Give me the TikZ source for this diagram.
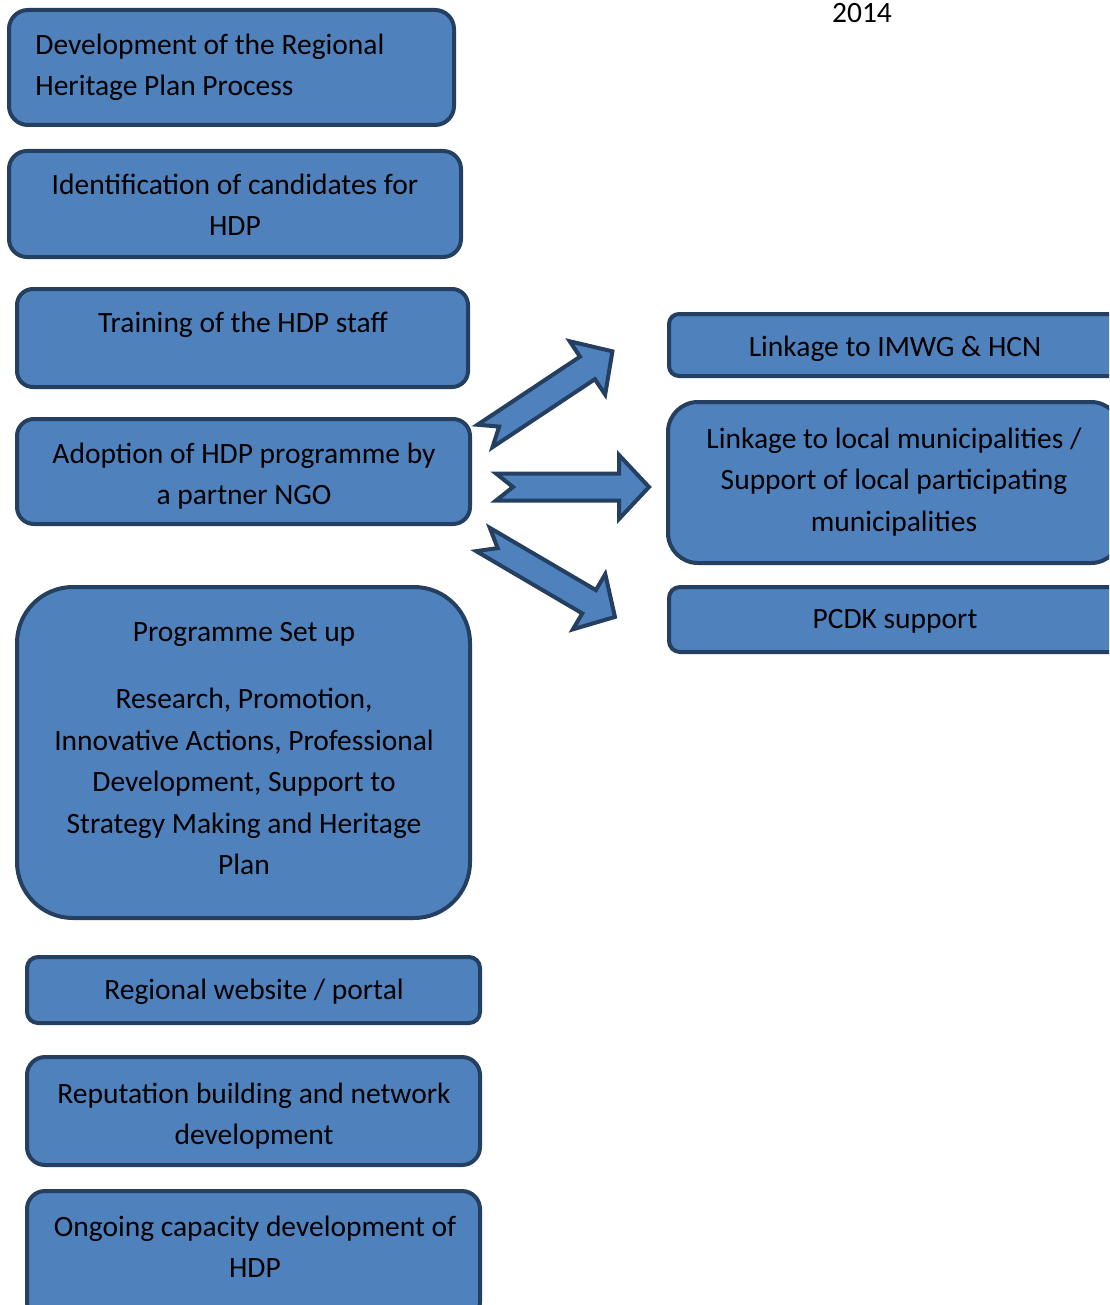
\documentclass[tikz,border=0pt]{standalone}
\usepackage{fontspec}
\setmainfont{Carlito}
\definecolor{boxfill}{HTML}{4F81BD}
\definecolor{boxline}{HTML}{243F60}
\begin{document}
\begin{tikzpicture}[x=0.5pt,y=-0.5pt,
  box/.style={draw=boxline, fill=boxfill, line width=2pt, inner sep=0pt},
  txt/.style={font=\fontsize{14.75}{20.75}\selectfont, inner sep=0pt, anchor=north, align=center, text=black},
  blockarrow/.pic={\draw[draw=boxline, fill=boxfill, line width=2pt, line join=miter]
     (0,-13.5) -- (123,-13.5) -- (123,-32) -- (153,0) -- (123,32) -- (123,13.5) -- (0,13.5) -- (17,0) -- cycle;}
]
\useasboundingbox (0,0) rectangle (1109,1305);
\clip (0,0) rectangle (1109,1305);

% left column boxes
\node[box, minimum width=222.5pt, minimum height=57.5pt, rounded corners=9.5pt] (b1) at (231.5,67.5) {};
\node[box, minimum width=226pt, minimum height=53pt, rounded corners=9pt] (b2) at (235,204) {};
\node[box, minimum width=225.5pt, minimum height=49pt, rounded corners=8pt] (b3) at (242.5,338) {};
\node[box, minimum width=226.5pt, minimum height=52.5pt, rounded corners=8.5pt] (b4) at (243.5,471.5) {};
\node[box, minimum width=226.5pt, minimum height=165.5pt, rounded corners=28pt] (b5) at (243.5,752.5) {};
\node[box, minimum width=226.5pt, minimum height=33pt, rounded corners=5.5pt] (b6) at (253.5,990) {};
\node[box, minimum width=226.5pt, minimum height=54pt, rounded corners=9pt] (b7) at (253.5,1111) {};
\node[box, minimum width=226.5pt, minimum height=64.5pt, rounded corners=9pt] (b8) at (253.5,1255.5) {};

% right column boxes
\node[box, minimum width=226pt, minimum height=31pt, rounded corners=5pt] (r1) at (895,345) {};
\node[box, minimum width=226.5pt, minimum height=80.5pt, rounded corners=15pt] (r2) at (894.5,482.5) {};
\node[box, minimum width=226pt, minimum height=32.5pt, rounded corners=5.5pt] (r3) at (895,619.5) {};

% block arrows
\pic (aup) [rotate=33.6] at (485,436) {blockarrow};
\pic (amid) at (496,487) {blockarrow};
\pic (adown) [rotate=-30.4] at (483,539.5) {blockarrow};

% texts
\node[txt, anchor=north west, align=left] (t1) at (35,25) {\strut Development of the Regional\\Heritage Plan Process};
\node[txt] (t2) at (235,165) {\strut Identification of candidates for\\HDP};
\node[txt] (t3) at (243,303) {\strut Training of the HDP staff};
\node[txt] (t4) at (244,434) {\strut Adoption of HDP programme by\\a partner NGO};
\node[txt] (t5) at (244,612) {\strut Programme Set up\\[12.9pt]Research, Promotion,\\Innovative Actions, Professional\\Development, Support to\\Strategy Making and Heritage\\Plan};
\node[txt] (t6) at (254,970) {\strut Regional website / portal};
\node[txt] (t7) at (254,1074) {\strut Reputation building and network\\development};
\node[txt] (t8) at (255,1207) {\strut Ongoing capacity development of\\HDP};
\node[txt] (rt1) at (895,327) {\strut Linkage to IMWG \& HCN};
\node[txt] (rt2) at (894,419) {\strut Linkage to local municipalities /\\Support of local participating\\municipalities};
\node[txt] (rt3) at (895,599) {\strut PCDK support};
\node[txt] (year) at (862,-7) {\strut 2014};
\end{tikzpicture}
\end{document}
